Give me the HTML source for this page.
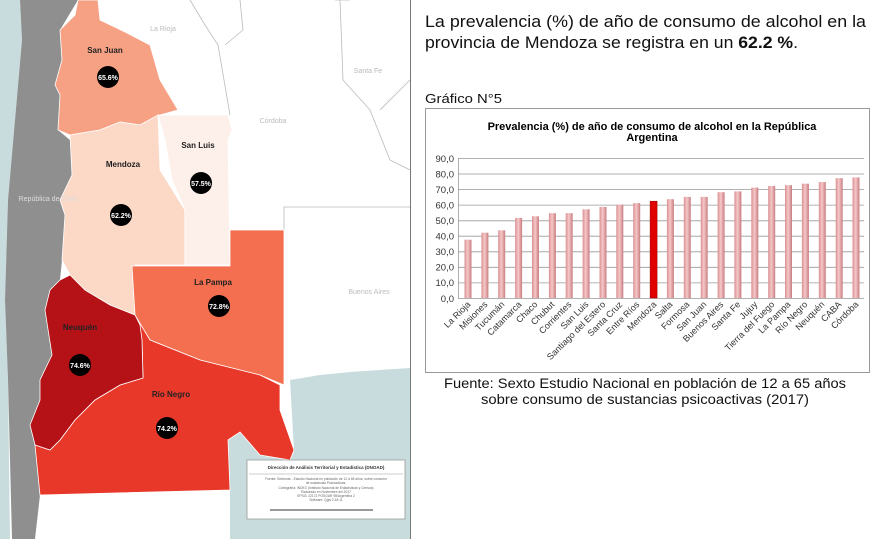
<!DOCTYPE html>
<html><head><meta charset="utf-8"><style>
body{margin:0;width:880px;height:539px;overflow:hidden;background:#fff;font-family:"Liberation Sans",sans-serif}
</style></head><body>
<svg width="880" height="539" viewBox="0 0 880 539" xmlns="http://www.w3.org/2000/svg" font-family="Liberation Sans, sans-serif">
<defs>
<linearGradient id="bg" x1="0" x2="1"><stop offset="0" stop-color="#d98f92"/><stop offset="0.45" stop-color="#f6c8c8"/><stop offset="1" stop-color="#c97c80"/></linearGradient>
</defs>
<rect x="0" y="0" width="410" height="539" fill="#fff"/>
<polygon points="0,0 20,0 22,40 15,120 8,200 5,300 8,380 10,539 0,539" fill="#c9dcdd"/>
<polygon points="20,0 78,0 60,30 62,60 55,85 60,95 58,130 70,140 72,175 60,200 65,215 62,260 60,280 50,290 45,310 52,355 40,380 40,400 30,425 35,445 40,495 35,539 12,539 8,380 5,300 8,200 15,120 22,40" fill="#8f8f8f"/>
<polygon points="290,380 320,375 350,372 380,370 410,368 410,539 230,539 230,495 228,440 240,432 260,455 290,460 294,450" fill="#c9dcdd"/>
<g fill="none" stroke="#bbb" stroke-width="0.8">
<path d="M190,0 L205,25 L218,45 L230,115 M240,0 L243,30 L225,45 M340,0 L343,80 L370,110 L390,160 L410,170 M380,110 L410,80 M284,230 L284,207 L410,207 M350,0 L335,0"/>
</g>
<polygon points="78,0 98,0 100,20 125,32 150,45 160,80 178,110 160,115 140,125 120,122 100,130 70,135 58,130 60,95 55,85 62,60 60,30 75,15" fill="#f7a184" stroke="#fff" stroke-width="0.8"/>
<polygon points="70,135 100,130 120,122 140,125 158,115 160,170 185,210 185,265 135,265 135,315 110,305 85,290 70,275 62,260 65,215 60,200 72,175" fill="#fcd8c6" stroke="#fff" stroke-width="0.8"/>
<polygon points="158,115 228,115 232,130 228,140 230,265 185,265 185,210 172,180 165,140" fill="#fdf0ea" stroke="#fff" stroke-width="0.8"/>
<polygon points="132,266 230,266 230,230 284,230 284,385 260,375 200,360 150,340 140,325 135,315" fill="#f36f50" stroke="#fff" stroke-width="0.8"/>
<polygon points="135,315 150,340 200,360 260,375 280,385 280,410 294,450 290,460 260,455 240,432 228,440 230,490 40,495 35,445 50,450 60,440 75,420 95,400 120,385 143,378 142,340" fill="#e8382a" stroke="#fff" stroke-width="0.8"/>
<polygon points="60,280 70,275 85,290 110,305 135,315 140,325 142,340 143,378 120,385 95,400 75,420 60,440 50,450 35,445 30,425 40,400 40,380 52,355 45,310 50,290" fill="#b51218" stroke="#fff" stroke-width="0.8"/>
<g font-size="7" fill="#bbb" text-anchor="middle">
<text x="163" y="31">La Rioja</text><text x="368" y="73">Santa Fe</text><text x="273" y="123">Córdoba</text><text x="369" y="294">Buenos Aires</text><text x="48" y="201" fill="#ddd">República de Chile</text>
</g>
<g font-size="8" font-weight="bold" fill="#222" text-anchor="middle">
<text x="105" y="53">San Juan</text><text x="123" y="167">Mendoza</text><text x="198" y="148">San Luis</text><text x="213" y="285">La Pampa</text><text x="80" y="330">Neuquén</text><text x="171" y="397">Río Negro</text>
</g>
<g fill="#000"><circle cx="108" cy="77" r="11"/><circle cx="121" cy="215" r="11"/><circle cx="201" cy="183" r="11"/><circle cx="219" cy="306" r="11"/><circle cx="80" cy="365" r="11"/><circle cx="167" cy="428" r="11"/></g>
<g font-size="7" font-weight="bold" fill="#fff" text-anchor="middle">
<text x="108" y="80">65.6%</text><text x="121" y="218">62.2%</text><text x="201" y="186">57.5%</text><text x="219" y="309">72.8%</text><text x="80" y="368">74.6%</text><text x="167" y="431">74.2%</text>
</g>
<rect x="247" y="460" width="158" height="59" fill="#fff" stroke="#999" stroke-width="0.8"/>
<text x="326" y="469" font-size="4.5" font-weight="bold" text-anchor="middle" fill="#333">Dirección de Análisis Territorial y Estadística (DNOAD)</text>
<line x1="249" y1="474" x2="403" y2="474" stroke="#999" stroke-width="0.5"/>
<g font-size="3.3" fill="#666" text-anchor="middle"><text x="326" y="480">Fuente: Sedronar - Estudio Nacional en población de 12 a 65 años, sobre consumo</text><text x="326" y="484">de sustancias Psicoactivas.</text><text x="326" y="489">Cartografía: INDEC (Instituto Nacional de Estadísticas y Censos)</text><text x="326" y="493">Elaborado en Noviembre del 2017</text><text x="326" y="497">EPSG: 22172 POSGAR 98/Argentina 2</text><text x="326" y="501">Software: Qgis 2.18.11</text></g>
<line x1="270" y1="510" x2="373" y2="510" stroke="#333" stroke-width="1"/>
<line x1="410.5" y1="0" x2="410.5" y2="539" stroke="#777" stroke-width="1"/>
<text x="425" y="27" font-size="17" fill="#111" textLength="441" lengthAdjust="spacingAndGlyphs">La prevalencia (%) de año de consumo de alcohol en la</text>
<text x="425" y="48" font-size="17" fill="#111" textLength="373" lengthAdjust="spacingAndGlyphs">provincia de Mendoza se registra en un <tspan font-weight="bold">62.2 %</tspan>.</text>
<text x="425" y="103" font-size="13" fill="#111" textLength="77" lengthAdjust="spacingAndGlyphs">Gráfico N°5</text>
<rect x="425.5" y="108.5" width="444" height="264" fill="#fff" stroke="#999" stroke-width="1"/>
<text x="652" y="130" font-size="11" font-weight="bold" text-anchor="middle">Prevalencia (%) de año de consumo de alcohol en la República</text>
<text x="652" y="141" font-size="11" font-weight="bold" text-anchor="middle">Argentina</text>
<g stroke="#999" stroke-width="0.8">
<line x1="458" y1="158.5" x2="864" y2="158.5"/><line x1="458" y1="174" x2="864" y2="174"/><line x1="458" y1="189.6" x2="864" y2="189.6"/><line x1="458" y1="205.1" x2="864" y2="205.1"/><line x1="458" y1="220.8" x2="864" y2="220.8"/><line x1="458" y1="236.2" x2="864" y2="236.2"/><line x1="458" y1="251.8" x2="864" y2="251.8"/><line x1="458" y1="267.3" x2="864" y2="267.3"/><line x1="458" y1="282.9" x2="864" y2="282.9"/><line x1="458" y1="298.5" x2="864" y2="298.5"/>
<line x1="458.5" y1="158" x2="458.5" y2="299"/>
</g>
<g font-size="9.5" fill="#333" text-anchor="end">
<text x="454" y="162">90,0</text><text x="454" y="177.5">80,0</text><text x="454" y="193">70,0</text><text x="454" y="208.5">60,0</text><text x="454" y="224">50,0</text><text x="454" y="239.5">40,0</text><text x="454" y="255">30,0</text><text x="454" y="270.5">20,0</text><text x="454" y="286">10,0</text><text x="454" y="302">0,0</text>
</g>
<g fill="url(#bg)">
<rect x="464.5" y="239.7" width="7" height="58.3"/><rect x="481.4" y="232.7" width="7" height="65.3"/><rect x="498.2" y="230.3" width="7" height="67.7"/><rect x="515.1" y="217.9" width="7" height="80.1"/><rect x="532" y="216.3" width="7" height="81.7"/><rect x="548.9" y="213.2" width="7" height="84.8"/><rect x="565.7" y="213.2" width="7" height="84.8"/><rect x="582.6" y="209.3" width="7" height="88.7"/><rect x="599.5" y="207" width="7" height="91"/><rect x="616.3" y="204.7" width="7" height="93.3"/><rect x="633.2" y="203.1" width="7" height="94.9"/>
<rect x="666.9" y="199.2" width="7" height="98.8"/><rect x="683.8" y="196.9" width="7" height="101.1"/><rect x="700.7" y="196.9" width="7" height="101.1"/><rect x="717.6" y="192.2" width="7" height="105.8"/><rect x="734.4" y="191.4" width="7" height="106.6"/><rect x="751.3" y="187.6" width="7" height="110.4"/><rect x="768.2" y="186" width="7" height="112"/><rect x="785" y="185.2" width="7" height="112.8"/><rect x="801.9" y="183.7" width="7" height="114.3"/><rect x="818.8" y="182.1" width="7" height="115.9"/><rect x="835.7" y="178.2" width="7" height="119.8"/><rect x="852.5" y="177.4" width="7" height="120.6"/>
</g>
<rect x="650.1" y="201.2" width="7" height="96.8" fill="#e00000" stroke="#900" stroke-width="0.5"/>
<g font-size="9" fill="#333" text-anchor="end">
<text transform="translate(471,305) rotate(-45)">La Rioja</text><text transform="translate(488,305) rotate(-45)">Misiones</text><text transform="translate(505,305) rotate(-45)">Tucumán</text><text transform="translate(522,305) rotate(-45)">Catamarca</text><text transform="translate(538,305) rotate(-45)">Chaco</text><text transform="translate(555,305) rotate(-45)">Chubut</text><text transform="translate(572,305) rotate(-45)">Corrientes</text><text transform="translate(589,305) rotate(-45)">San Luis</text><text transform="translate(606,305) rotate(-45)">Santiago del Estero</text><text transform="translate(623,305) rotate(-45)">Santa Cruz</text><text transform="translate(640,305) rotate(-45)">Entre Ríos</text><text transform="translate(657,305) rotate(-45)">Mendoza</text><text transform="translate(673,305) rotate(-45)">Salta</text><text transform="translate(690,305) rotate(-45)">Formosa</text><text transform="translate(707,305) rotate(-45)">San Juan</text><text transform="translate(724,305) rotate(-45)">Buenos Aires</text><text transform="translate(741,305) rotate(-45)">Santa Fe</text><text transform="translate(758,305) rotate(-45)">Jujuy</text><text transform="translate(775,305) rotate(-45)">Tierra del Fuego</text><text transform="translate(791,305) rotate(-45)">La Pampa</text><text transform="translate(808,305) rotate(-45)">Río Negro</text><text transform="translate(825,305) rotate(-45)">Neuquén</text><text transform="translate(842,305) rotate(-45)">CABA</text><text transform="translate(859,305) rotate(-45)">Córdoba</text>
</g>
<text x="444" y="388" font-size="13.5" fill="#111" textLength="402" lengthAdjust="spacingAndGlyphs">Fuente: Sexto Estudio Nacional en población de 12 a 65 años</text>
<text x="481" y="404" font-size="13.5" fill="#111" textLength="328" lengthAdjust="spacingAndGlyphs">sobre consumo de sustancias psicoactivas (2017)</text>
</svg>
</body></html>
